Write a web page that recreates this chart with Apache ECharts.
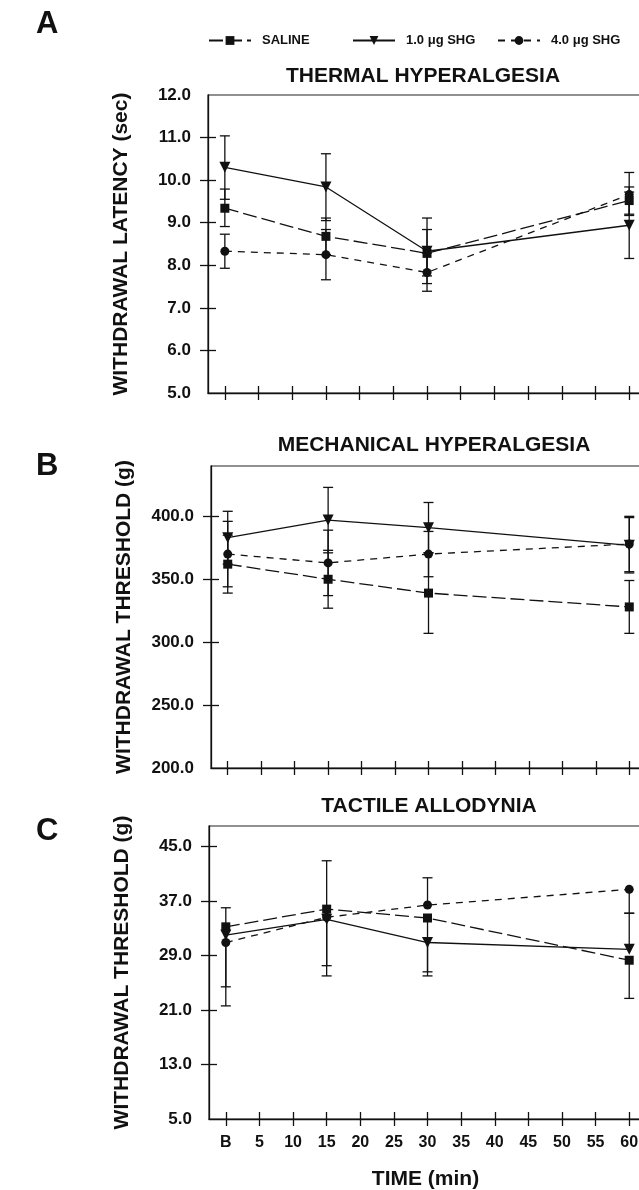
<!DOCTYPE html>
<html>
<head>
<meta charset="utf-8">
<title>SHG</title>
<script src="https://cdn.jsdelivr.net/npm/echarts@6/dist/echarts.min.js"></script>
<style>
  html, body { margin: 0; padding: 0; background: #fff; }
  #chart { width: 639px; height: 1190px; }
</style>
</head>
<body>
<div id="chart"></div>
<script>
// time points (B = baseline drawn at 0)
const times = [0, 15, 30, 60];
const timeTicks = [0, 5, 10, 15, 20, 25, 30, 35, 40, 45, 50, 55, 60];

const seriesNames = ['SALINE', '1.0 μg SHG', '4.0 μg SHG'];

// A - thermal hyperalgesia, latency (sec)
const thermalSaline = [9.34, 8.68, 8.28, 9.52];
const thermalSalineLow = [8.91, 8.25, 7.75, 9.20];
const thermalSalineHigh = [9.79, 9.11, 8.84, 9.84];
const thermalLow1 = [10.30, 9.84, 8.33, 8.94];
const thermalLow1Low = [9.55, 9.05, 7.57, 8.16];
const thermalLow1High = [11.04, 10.62, 9.11, 9.72];
const thermalHigh4 = [8.33, 8.25, 7.83, 9.66];
const thermalHigh4Low = [7.93, 7.66, 7.39, 9.17];
const thermalHigh4High = [8.73, 8.84, 8.29, 10.18];
const thermalTicks = [5, 6, 7, 8, 9, 10, 11, 12];

// B - mechanical hyperalgesia, threshold (g)
const mechSaline = [362, 350, 339, 328];
const mechSalineLow = [339, 327, 307, 307];
const mechSalineHigh = [385, 373, 371, 349];
const mechLow1 = [383, 397, 391, 377];
const mechLow1Low = [362, 371, 371, 355];
const mechLow1High = [404, 423, 411, 399];
const mechHigh4 = [370, 363, 370, 378];
const mechHigh4Low = [344, 337, 352, 356];
const mechHigh4High = [396, 389, 388, 400];
const mechTicks = [200, 250, 300, 350, 400];

// C - tactile allodynia, threshold (g)
const tactSaline = [33.2, 35.8, 34.5, 28.3];
const tactSalineLow = [33.2, 35.8, 26.6, 22.7];
const tactSalineHigh = [36.0, 42.9, 34.5, 28.3];
const tactLow1 = [32.0, 34.3, 30.9, 29.9];
const tactLow1Low = [24.4, 27.5, 26.0, 29.9];
const tactLow1High = [32.0, 34.3, 30.9, 35.2];
const tactHigh4 = [30.9, 34.6, 36.4, 38.7];
const tactHigh4Low = [21.6, 26.0, 36.4, 35.2];
const tactHigh4High = [30.9, 34.6, 40.4, 38.7];
const tactTicks = [5, 13, 21, 29, 37, 45];

const font = "'Liberation Sans', Arial, Helvetica, sans-serif";
const ink = '#111';

const panels = [
    {
        grid: { left: 208, top: 95, height: 298 },
        min: 5, max: 12, ticks: thermalTicks,
        name: 'WITHDRAWAL LATENCY (sec)',
        vals: [thermalSaline, thermalLow1, thermalHigh4],
        lows: [thermalSalineLow, thermalLow1Low, thermalHigh4Low],
        highs: [thermalSalineHigh, thermalLow1High, thermalHigh4High]
    },
    {
        grid: { left: 211, top: 466, height: 302 },
        min: 200, max: 440, ticks: mechTicks,
        name: 'WITHDRAWAL THRESHOLD (g)',
        vals: [mechSaline, mechLow1, mechHigh4],
        lows: [mechSalineLow, mechLow1Low, mechHigh4Low],
        highs: [mechSalineHigh, mechLow1High, mechHigh4High]
    },
    {
        grid: { left: 209, top: 826, height: 293 },
        min: 5, max: 48, ticks: tactTicks,
        name: 'WITHDRAWAL THRESHOLD (g)',
        vals: [tactSaline, tactLow1, tactHigh4],
        lows: [tactSalineLow, tactLow1Low, tactHigh4Low],
        highs: [tactSalineHigh, tactLow1High, tactHigh4High]
    }
];

const symbols = ['rect', 'triangle', 'circle'];
const symbolSizes = [9, 11, 9];
const symbolRotates = [0, 180, 0];
const dashes = [[14, 5], 'solid', [7, 6]];

function renderErr(params, api) {
    const x = api.value(0), v = api.value(1), lo = api.value(2), hi = api.value(3);
    const pLo = api.coord([x, lo]);
    const pHi = api.coord([x, hi]);
    const style = { stroke: ink, lineWidth: 1.3 };
    const children = [{
        type: 'line',
        shape: { x1: pLo[0], y1: pLo[1], x2: pHi[0], y2: pHi[1] },
        style: style
    }];
    if (hi > v) {
        children.push({ type: 'line', shape: { x1: pHi[0] - 5, y1: pHi[1], x2: pHi[0] + 5, y2: pHi[1] }, style: style });
    }
    if (lo < v) {
        children.push({ type: 'line', shape: { x1: pLo[0] - 5, y1: pLo[1], x2: pLo[0] + 5, y2: pLo[1] }, style: style });
    }
    return { type: 'group', children: children };
}

const grids = [], xAxes = [], yAxes = [], series = [];

panels.forEach((p, i) => {
    // the figure is cropped on the right, so the frame runs past the page edge
    grids.push({
        left: p.grid.left, top: p.grid.top, height: p.grid.height, width: 642 - p.grid.left,
        outerBoundsMode: 'none',
        show: true, borderColor: '#222', borderWidth: 1.2, backgroundColor: 'transparent'
    });
    const last = i === panels.length - 1;
    // bottom axis, ticks outside
    xAxes.push({
        type: 'value', gridIndex: i, position: 'bottom', min: -2.5, max: 61.9,
        axisLine: { show: true, onZero: false, lineStyle: { color: ink, width: 1.3 } },
        axisTick: { show: true, inside: false, length: 7, customValues: timeTicks, lineStyle: { color: ink, width: 1.3 } },
        axisLabel: {
            show: last, customValues: timeTicks, margin: 16,
            fontFamily: font, fontWeight: 'bold', fontSize: 16, color: ink,
            formatter: v => (v === 0 ? 'B' : String(v))
        },
        splitLine: { show: false },
        name: last ? 'TIME (min)' : '',
        nameLocation: 'middle', nameGap: 50,
        nameTextStyle: { fontFamily: font, fontWeight: 'bold', fontSize: 21, color: ink }
    });
    // same axis, ticks inside
    xAxes.push({
        type: 'value', gridIndex: i, position: 'bottom', min: -2.5, max: 61.9,
        axisLine: { show: false, onZero: false },
        axisTick: { show: true, inside: true, length: 7, customValues: timeTicks, lineStyle: { color: ink, width: 1.3 } },
        axisLabel: { show: false },
        splitLine: { show: false }
    });
    const inner = p.ticks.filter(t => t > p.min && t < p.max);
    yAxes.push({
        type: 'value', gridIndex: i, position: 'left', min: p.min, max: p.max,
        axisLine: { show: true, onZero: false, lineStyle: { color: ink, width: 1.3 } },
        axisTick: { show: true, inside: false, length: 8, customValues: inner, lineStyle: { color: ink, width: 1.3 } },
        axisLabel: {
            customValues: p.ticks, margin: 17,
            fontFamily: font, fontWeight: 'bold', fontSize: 17, color: ink,
            formatter: v => v.toFixed(1)
        },
        splitLine: { show: false },
        name: p.name, nameLocation: 'middle', nameGap: 76,
        nameTextStyle: { fontFamily: font, fontWeight: 'bold', fontSize: 21, color: ink }
    });
    yAxes.push({
        type: 'value', gridIndex: i, position: 'left', min: p.min, max: p.max,
        axisLine: { show: false, onZero: false },
        axisTick: { show: true, inside: true, length: 8, customValues: inner, lineStyle: { color: ink, width: 1.3 } },
        axisLabel: { show: false },
        splitLine: { show: false }
    });

    seriesNames.forEach((name, k) => {
        series.push({
            type: 'custom', name: 'err-' + i + '-' + k,
            xAxisIndex: i * 2, yAxisIndex: i * 2,
            renderItem: renderErr,
            encode: { x: 0, y: [1, 2, 3] },
            data: times.map((t, j) => [t, p.vals[k][j], p.lows[k][j], p.highs[k][j]]),
            z: 2, silent: true
        });
        series.push({
            type: 'line', name: name,
            xAxisIndex: i * 2, yAxisIndex: i * 2,
            data: times.map((t, j) => [t, p.vals[k][j]]),
            symbol: symbols[k], symbolSize: symbolSizes[k], symbolRotate: symbolRotates[k],
            showSymbol: true,
            itemStyle: { color: ink, borderWidth: 0 },
            lineStyle: { color: ink, width: 1.3, type: dashes[k] },
            z: 3
        });
    });
});

const legendLefts = [208, 352, 497];
const legends = seriesNames.map((n, i) => ({
    data: [n], left: legendLefts[i], top: 34, padding: 0,
    itemWidth: 42, itemHeight: 11,
    textStyle: { fontFamily: font, fontWeight: 'bold', fontSize: 13, color: ink, padding: [0, 0, 0, 6] }
}));

const titleStyle = { fontFamily: font, fontWeight: 'bold', fontSize: 21, fill: ink, textAlign: 'center', textVerticalAlign: 'middle' };
const letterStyle = { fontFamily: font, fontWeight: 'bold', fontSize: 31, fill: ink, textAlign: 'left', textVerticalAlign: 'middle' };

const chart = echarts.init(document.getElementById('chart'));
chart.setOption({
    animation: false,
    backgroundColor: '#fff',
    legend: legends,
    grid: grids,
    xAxis: xAxes,
    yAxis: yAxes,
    series: series,
    graphic: [
        { type: 'text', x: 423, y: 76, style: Object.assign({ text: 'THERMAL HYPERALGESIA' }, titleStyle) },
        { type: 'text', x: 434, y: 445, style: Object.assign({ text: 'MECHANICAL HYPERALGESIA' }, titleStyle) },
        { type: 'text', x: 429, y: 806, style: Object.assign({ text: 'TACTILE ALLODYNIA' }, titleStyle) },
        { type: 'text', x: 36, y: 24, style: Object.assign({ text: 'A' }, letterStyle) },
        { type: 'text', x: 36, y: 466, style: Object.assign({ text: 'B' }, letterStyle) },
        { type: 'text', x: 36, y: 831, style: Object.assign({ text: 'C' }, letterStyle) }
    ]
});
</script>
</body>
</html>
